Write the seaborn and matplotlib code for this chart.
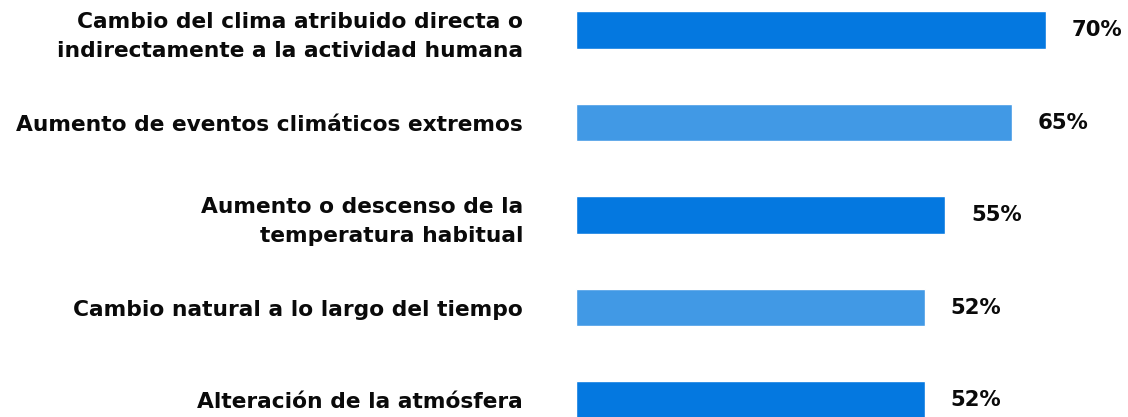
import matplotlib
matplotlib.use("Agg")
import matplotlib.pyplot as plt
import seaborn as sns
import pandas as pd

categories = [
    "Cambio del clima atribuido directa o\nindirectamente a la actividad humana",
    "Aumento de eventos climáticos extremos",
    "Aumento o descenso de la\ntemperatura habitual",
    "Cambio natural a lo largo del tiempo",
    "Alteración de la atmósfera",
]
values = [70, 65, 55, 52, 52]
value_labels = ["70%", "65%", "55%", "52%", "52%"]
colors = ["#0478e0", "#4199e5", "#0478e0", "#4199e5", "#0478e0"]

df = pd.DataFrame({"cat": categories, "val": values})

sns.set_theme(style="white")
plt.rcParams["font.family"] = ["DejaVu Sans"]

W, H, DPI = 1128, 417, 100
fig = plt.figure(figsize=(W / DPI, H / DPI), dpi=DPI)
ax = fig.add_axes([576 / W, 0, 1 - 576 / W, 1])

sns.barplot(data=df, y="cat", x="val", hue="cat", palette=colors,
            legend=False, orient="h", width=0.41, ax=ax, saturation=1)

px_per_unit = 470 / 70
ax.set_xlim(0, (W - 576) / px_per_unit)
ax.set_ylim(4 + 17 / 92.5, -30 / 92.5)

for i, (v, lab) in enumerate(zip(values, value_labels)):
    ax.annotate(lab, xy=(v, i), xytext=(18.5, 0), textcoords="offset points",
                ha="left", va="center", fontsize=15.3, fontweight="bold",
                color="#0a0a0a")

ax.set_xlabel("")
ax.set_ylabel("")
ax.set_xticks([])
ax.tick_params(axis="y", length=0, pad=38)
for t in ax.get_yticklabels():
    t.set_fontsize(15.7)
    t.set_fontweight("bold")
    t.set_color("#0a0a0a")
    t.set_linespacing(1.55)
for s in ax.spines.values():
    s.set_visible(False)

fig.savefig("out.png", dpi=DPI)
